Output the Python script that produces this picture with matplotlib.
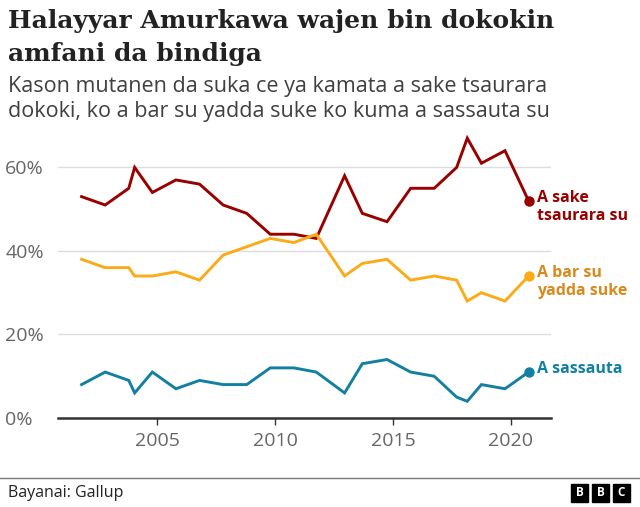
import numpy as np
import matplotlib
matplotlib.use("Agg")
import matplotlib.pyplot as plt
from matplotlib.lines import Line2D
from matplotlib.patches import Rectangle

# survey dates (fractional years, Gallup polls)
years = [2001.8, 2002.8, 2003.8, 2004.05, 2004.8, 2005.8, 2006.8, 2007.8,
         2008.8, 2009.8, 2010.8, 2011.75, 2012.95, 2013.7, 2014.75, 2015.75,
         2016.75, 2017.7, 2018.15, 2018.75, 2019.75, 2020.75]

stricter = [53, 51, 55, 60, 54, 57, 56, 51, 49, 44, 44, 43, 58, 49, 47, 55,
            55, 60, 67, 61, 64, 52]
kept_same = [38, 36, 36, 34, 34, 35, 33, 39, 41, 43, 42, 44, 34, 37, 38, 33,
             34, 33, 28, 30, 28, 34]
less_strict = [8, 11, 9, 6, 11, 7, 9, 8, 8, 12, 12, 11, 6, 13, 14, 11, 10, 5,
               4, 8, 7, 11]

series_labels = ["A sake\ntsaurara su", "A bar su\nyadda suke", "A sassauta"]
line_colors = ["#990000", "#FAAB18", "#1380A1"]
text_colors = ["#990000", "#D9891E", "#1380A1"]

yticks = [0, 20, 40, 60]
xticks = [2005, 2010, 2015, 2020]

sans = ["Open Sans", "DejaVu Sans"]
plt.rcParams["font.family"] = sans

fig = plt.figure(figsize=(6.4, 5.07), dpi=100)
W, H = 640, 507

ax = fig.add_axes([58 / W, 1 - 418 / H, (551 - 58) / W, (418 - 134) / H])
ax.set_xlim(2000.8, 2021.7)
ax.set_ylim(0, 68)

for vals, lc, tc, lab in zip([stricter, kept_same, less_strict], line_colors,
                             text_colors, series_labels):
    ax.plot(years, vals, color=lc, lw=2.1, clip_on=False, zorder=3,
            solid_joinstyle="miter")
    ax.plot(years[-1], vals[-1], "o", color=lc, ms=6.5, clip_on=False, zorder=4)
    ax.annotate(lab, xy=(years[-1], vals[-1]), xytext=(6, 8),
                textcoords="offset points", ha="left", va="top",
                color=tc, fontsize=11.5, fontweight="bold",
                linespacing=1.15, annotation_clip=False)

ax.set_yticks(yticks)
ax.set_yticklabels([f"{v}%" for v in yticks])
ax.set_xticks(xticks)
ax.set_xticklabels([str(v) for v in xticks])
for t in ax.get_yticklabels():
    t.set_ha("left")
ax.tick_params(axis="y", length=0, pad=38, labelsize=14, labelcolor="#666666")
ax.tick_params(axis="x", length=5, width=1, color="#333333", pad=5,
               labelsize=14, labelcolor="#666666")
ax.grid(axis="y", color="#dddddd", lw=1)
ax.set_axisbelow(True)
for s in ["top", "right", "left"]:
    ax.spines[s].set_visible(False)
ax.spines["bottom"].set_color("#333333")
ax.spines["bottom"].set_linewidth(1.8)
ax.spines["bottom"].set_zorder(5)

# titles
fig.text(8 / W, 1 - 28 / H, "Halayyar Amurkawa wajen bin dokokin",
         fontsize=18, fontweight="bold", family=["DejaVu Serif"],
         color="#222222", va="baseline")
fig.text(8 / W, 1 - 61 / H, "amfani da bindiga",
         fontsize=18, fontweight="bold", family=["DejaVu Serif"],
         color="#222222", va="baseline")
fig.text(8 / W, 1 - 92 / H, "Kason mutanen da suka ce ya kamata a sake tsaurara",
         fontsize=15.5, color="#404040", va="baseline")
fig.text(8 / W, 1 - 117 / H, "dokoki, ko a bar su yadda suke ko kuma a sassauta su",
         fontsize=15.5, color="#404040", va="baseline")

# footer
fig.add_artist(Line2D([0, 1], [1 - 478 / H, 1 - 478 / H], color="#777777", lw=1))
fig.text(8 / W, 1 - 493 / H, "Bayanai: Gallup", fontsize=11.5,
         color="#222222", va="center")
for i, letter in enumerate("BBC"):
    x0 = 571 + i * 21
    fig.add_artist(Rectangle((x0 / W, 1 - 502 / H), 17 / W, 18 / H,
                             transform=fig.transFigure, color="black"))
    fig.text((x0 + 8.5) / W, 1 - 493 / H, letter, color="white",
             fontsize=8.5, fontweight="bold", ha="center", va="center")

fig.savefig("out.png", dpi=100, facecolor="white")
